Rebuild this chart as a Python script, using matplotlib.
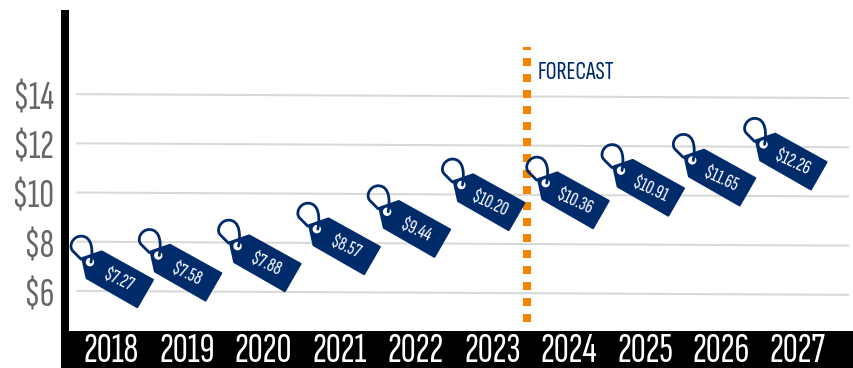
import matplotlib
matplotlib.use("Agg")
import matplotlib.pyplot as plt
from matplotlib.patches import Circle, PathPatch, Rectangle
from matplotlib.path import Path
from matplotlib.transforms import Affine2D

plt.rcParams["font.family"] = ["Sofia Sans Extra Condensed", "Pathway Gothic One", "Open Sans", "DejaVu Sans"]

years = [2018, 2019, 2020, 2021, 2022, 2023, 2024, 2025, 2026, 2027]
prices = [7.27, 7.58, 7.88, 8.57, 9.44, 10.20, 10.36, 10.91, 11.65, 12.26]
price_labels = ["$7.27", "$7.58", "$7.88", "$8.57", "$9.44",
                "$10.20", "$10.36", "$10.91", "$11.65", "$12.26"]
grid_values = [6, 8, 10, 12, 14]
grid_labels = ["$6", "$8", "$10", "$12", "$14"]

# hand placement of each tag, in pixels from its (year, price) point
tag_dx = [-21, -29, -26, -23, -29, -31, -23, -24, -29, -34]
tag_dy = [-1, -2, 0, 0, -4, 4, 2, 1, -7, -6]

NAVY = "#002B6B"
ORANGE = "#F58400"
GREY = "#666666"
LINE = "#D9D9D9"

fig = plt.figure(figsize=(8.54, 3.68), dpi=100)
W, H = 854, 368
ax = fig.add_axes([69 / W, 1 - 331 / H, (854 - 69) / W, (331 - 10) / H])
ax.set_xlim(-0.55, 9.74)
ax.set_ylim(4.43, 17.48)

# black band behind the year labels
fig.add_artist(Rectangle((61 / W, 0), (W - 61) / W, 37 / H, transform=fig.transFigure,
                         facecolor="k", edgecolor="none", zorder=-1))

for s in ["top", "right", "bottom"]:
    ax.spines[s].set_visible(False)
ax.spines["left"].set_linewidth(5.76)
ax.spines["left"].set_color("k")
ax.spines["left"].set_capstyle("butt")
ax.spines["left"].set_position(("outward", 2.9))

# gridlines lean down very slightly to the right
for v in grid_values:
    ax.plot([-0.44, 9.66], [v + 0.06, v - 0.1], color=LINE, lw=1.5, zorder=1)

ax.axvline(5.45, ymin=6 / 321, ymax=(331 - 47) / 321, color=ORANGE, lw=5.76,
           linestyle=(1.625, (1, 1)), dash_capstyle="butt", zorder=2)
ax.text(5.59, 14.93, "FORECAST", color=NAVY, fontsize=19.5, va="center", ha="left")

ax.set_xticks(range(len(years)))
ax.set_xticklabels(years, color="w", fontsize=30)
ax.set_yticks(grid_values)
ax.set_yticklabels(grid_labels, color=GREY, fontsize=29)
ax.tick_params(axis="both", length=0)
ax.tick_params(axis="x", pad=1.2)
ax.tick_params(axis="y", pad=7.5)

# price tag outline and string, pixels around the eyelet, y up
tag_shape = Path([(-7.7, 4), (11.7, 10.7), (63, -17.7), (47.3, -45), (-3.3, -16), (-7.7, 4)],
                 [Path.MOVETO, Path.LINETO, Path.LINETO, Path.LINETO, Path.LINETO, Path.CLOSEPOLY])
string_shape = Path([(1, 0), (3, 10), (3, 26), (-9, 26), (-17, 26), (-22, 16), (-17, 11), (-9, 3)],
                    [Path.MOVETO, Path.CURVE4, Path.CURVE4, Path.CURVE4,
                     Path.CURVE4, Path.CURVE4, Path.CURVE4, Path.LINETO])

for i, price in enumerate(prices):
    px, py = ax.transData.transform((i, price))
    place = Affine2D().translate(px + tag_dx[i], py + tag_dy[i])
    ax.add_patch(PathPatch(tag_shape, transform=place, facecolor=NAVY, edgecolor=NAVY,
                           lw=1.5, joinstyle="round", zorder=3))
    ax.add_patch(Circle((0, 0), 4.2, transform=place, facecolor="w", edgecolor="none", zorder=4))
    ax.add_patch(PathPatch(string_shape, transform=place, facecolor="none", edgecolor=NAVY,
                           lw=2.0, capstyle="round", zorder=5))
    ax.annotate(price_labels[i], xy=(i, price), xycoords="data",
                xytext=(tag_dx[i] + 29, tag_dy[i] - 18), textcoords="offset pixels",
                color="w", fontsize=14.5, ha="center", va="center",
                rotation=-25, rotation_mode="anchor", zorder=6)

fig.savefig("out.png", dpi=100)
